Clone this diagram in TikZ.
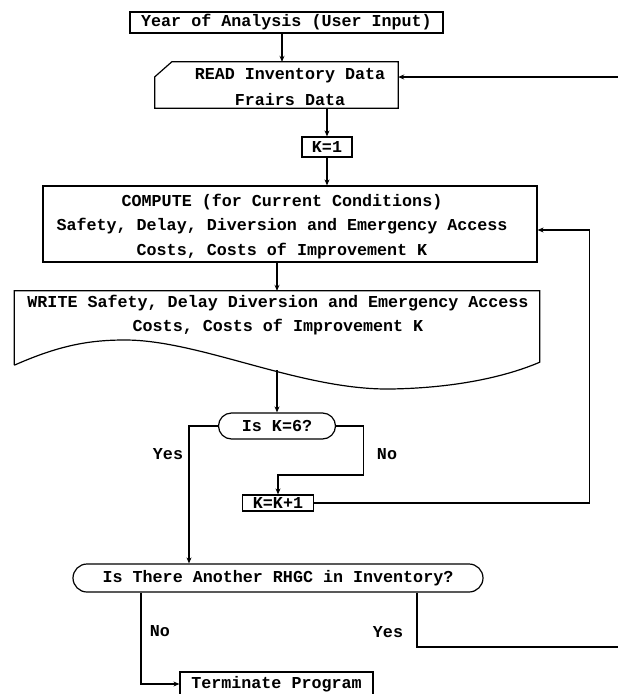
\documentclass[tikz,border=0pt]{standalone}
\usepackage{fontspec}
\setmonofont{Liberation Mono}
\usetikzlibrary{arrows.meta,shapes.misc}
\begin{document}
\begin{tikzpicture}[x=1pt,y=-1pt,
  every node/.style={font=\ttfamily\bfseries\fontsize{16.7}{24.5}\selectfont, inner sep=0pt},
  box/.style={draw, line width=1.2pt, rectangle},
  pill/.style={draw, line width=1.2pt, rounded rectangle},
  hold/.style={rectangle, inner sep=0pt},
  txt/.style={align=center},
  arr/.style={line width=1.2pt, -{Stealth[length=6pt,width=5pt]}},
  ln/.style={line width=1.2pt}]
\useasboundingbox (0,0) rectangle (618,694);
\fill[white] (0,0) rectangle (618,694);

\node[box, minimum width=313pt, minimum height=21pt] (year) at (286.5,22.5) {Year of Analysis (User Input)};

\node[hold, minimum width=243pt, minimum height=46pt] (read) at (276.5,85) {};
\draw[ln] (read.south west) -- (read.south east) -- (read.north east) -- ([xshift=17pt]read.north west) -- ([yshift=-15pt]read.north west) -- cycle;
\node[txt] (readtxt) at (290,87) {READ Inventory Data\\[1.5pt]Frairs Data};

\node[box, minimum width=50pt, minimum height=20pt] (k1) at (327,147) {K=1};

\node[box, minimum width=494pt, minimum height=76pt] (compute) at (290,224) {};
\node[txt] (computetxt) at (282,226.5) {COMPUTE (for Current Conditions)\\Safety, Delay, Diversion and Emergency Access\\Costs, Costs of Improvement K};

\node[hold, minimum width=525pt, minimum height=74pt] (write) at (277,328) {};
\draw[ln] (write.south west) -- (write.north west) -- (write.north east) -- ([yshift=3pt]write.south east)
  .. controls (510,375) and (460,388) .. (390,389)
  .. controls (300,390) and (200,340) .. (125,340)
  .. controls (90,340) and (60,345) .. (write.south west);
\node[txt] (writetxt) at (278,315) {WRITE Safety, Delay Diversion and Emergency Access\\Costs, Costs of Improvement K};
\coordinate (wavept) at (277,370);

\node[pill, minimum width=117pt, minimum height=26pt] (k6) at (277,426) {Is K=6?};
\node[box, minimum width=71pt, minimum height=16pt] (kk1) at (278,503) {K=K+1};
\node[pill, minimum width=410pt, minimum height=28pt] (another) at (278,578) {Is There Another RHGC in Inventory?};
\node[box, minimum width=193pt, minimum height=24pt] (term) at (276.5,684) {Terminate Program};

\node (yes1) at (168,454) {Yes};
\node (no1) at (387,454) {No};
\node (no2) at (160,631) {No};
\node (yes2) at (388,632) {Yes};

\draw[arr] ([xshift=-4.5pt]year.south) -- ([xshift=-4.5pt]year.south |- read.north);
\draw[arr] (k1.north |- read.south) -- (k1.north);
\draw[arr] (k1.south) -- (k1.south |- compute.north);
\draw[arr] (write.north |- compute.south) -- (write.north);
\draw[arr] (wavept) -- (k6.north);
\draw[arr] (k6.west) -| ([xshift=-89pt]another.north);
\draw[arr] (k6.east) -- ++(27,0) -- ++(0,49) -| (kk1.north);
\draw[arr] (kk1.east) -| ([xshift=52pt,yshift=-6pt]compute.east) -- ([yshift=-6pt]compute.east);
\draw[arr] ([xshift=-137pt]another.south) |- (term.west);
\coordinate (outB) at (618,647);
\draw[ln] ([xshift=139pt]another.south) |- (outB);
\coordinate (outT) at (618,77);
\draw[arr] (outT) -- (outT -| read.east);
\end{tikzpicture}
\end{document}
